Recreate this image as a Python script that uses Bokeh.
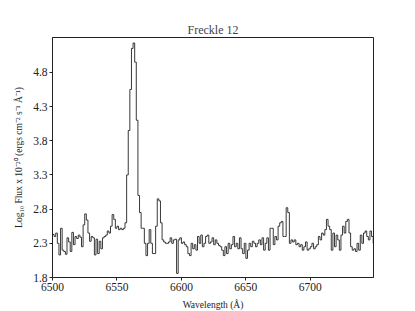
from bokeh.plotting import figure
from bokeh.models import FixedTicker, Range1d
from bokeh.embed import file_html
from bokeh.resources import INLINE

start_wavelength = 6500.0
bin_width = 1.25
log_flux = [
    2.43, 2.40, 2.45, 2.30, 2.13, 2.52, 2.20, 2.18,
    2.14, 2.38, 2.32, 2.18, 2.46, 2.28, 2.40, 2.37,
    2.42, 2.39, 2.25, 2.57, 2.73, 2.64, 2.45, 2.33,
    2.40, 2.38, 2.13, 2.36, 2.15, 2.33, 2.22, 2.38,
    2.40, 2.42, 2.48, 2.45, 2.55, 2.72, 2.65, 2.52,
    2.55, 2.50, 2.52, 2.50, 2.52, 2.60, 3.30, 3.95,
    4.55, 5.15, 5.23, 4.95, 4.10, 3.00, 2.75, 2.52,
    2.52, 2.30, 2.12, 2.30, 2.50, 2.30, 2.15, 2.15,
    2.55, 2.95, 2.92, 2.60, 2.35, 2.32, 2.30, 2.30,
    2.32, 2.38, 2.30, 2.35, 2.36, 1.86, 2.35, 2.38,
    2.30, 2.32, 2.28, 2.25, 2.15, 2.12, 2.30, 2.22,
    2.28, 2.20, 2.40, 2.30, 2.42, 2.25, 2.30, 2.40,
    2.42, 2.30, 2.32, 2.38, 2.28, 2.35, 2.30, 2.27,
    2.25, 2.20, 2.12, 2.25, 2.15, 2.30, 2.22, 2.28,
    2.40, 2.25, 2.30, 2.22, 2.38, 2.22, 2.15, 2.30,
    2.08, 2.20, 2.30, 2.25, 2.33, 2.30, 2.25, 2.30,
    2.35, 2.28, 2.38, 2.20, 2.30, 2.38, 2.20, 2.52,
    2.52, 2.28, 2.40, 2.35, 2.55, 2.60, 2.62, 2.40,
    2.40, 2.82, 2.75, 2.30, 2.35, 2.32, 2.35, 2.28,
    2.30, 2.25, 2.28, 2.20, 2.25, 2.32, 2.20, 2.22,
    2.25, 2.30, 2.22, 2.25, 2.28, 2.40, 2.35, 2.45,
    2.42, 2.50, 2.65, 2.55, 2.50, 2.20, 2.45, 2.25,
    2.42, 2.35, 2.20, 2.42, 2.55, 2.45, 2.62, 2.65,
    2.45, 2.25, 2.20, 2.22, 2.18, 2.30, 2.20, 2.42,
    2.30, 2.45, 2.48, 2.40, 2.35, 2.48, 2.40, 2.30,
]
x_ticks = [6500, 6550, 6600, 6650, 6700]
y_ticks = [1.8, 2.3, 2.8, 3.3, 3.8, 4.3, 4.8]

wavelength = [start_wavelength + bin_width * i for i in range(len(log_flux))]
xs = wavelength + [wavelength[-1] + bin_width]
ys = log_flux + [log_flux[-1]]

FONT = "Liberation Serif"

p = figure(
    frame_width=321, frame_height=240,
    output_backend="svg", toolbar_location=None,
    x_range=Range1d(6500, 6749), y_range=Range1d(1.8, 5.31),
    min_border_left=52, min_border_top=37, min_border_right=30, min_border_bottom=20,
    title="Freckle 12",
)
p.step(xs, ys, mode="after", line_color="#222222", line_width=0.9)

p.title.align = "center"
p.title.text_font = FONT
p.title.text_font_size = "12px"
p.title.text_font_style = "normal"
p.title.standoff = 2

p.xgrid.visible = False
p.ygrid.visible = False
p.outline_line_color = "#222222"
p.outline_line_width = 1

for ax in (p.xaxis[0], p.yaxis[0]):
    ax.major_label_text_font = FONT
    ax.major_label_text_font_size = "11.5px"
    ax.axis_label_text_font = FONT
    ax.axis_label_text_font_size = "9.5px"
    ax.axis_label_text_font_style = "normal"
    ax.minor_tick_line_color = None
    ax.major_tick_in = 0
    ax.major_tick_out = 3
    ax.axis_line_color = "#222222"
    ax.major_tick_line_color = "#222222"
    ax.major_label_text_color = "#222222"
    ax.axis_label_text_color = "#222222"
    ax.axis_label_standoff = 6
    ax.major_label_standoff = 2

p.xaxis.ticker = FixedTicker(ticks=x_ticks)
p.yaxis.ticker = FixedTicker(ticks=y_ticks)
p.xaxis.axis_label = "Wavelength (Å)"
p.yaxis.axis_label = "Log₁₀ Flux x 10⁻²⁰ (ergs cm⁻² s⁻¹ Å⁻¹)"

open("out.html", "w").write(file_html(p, INLINE))
